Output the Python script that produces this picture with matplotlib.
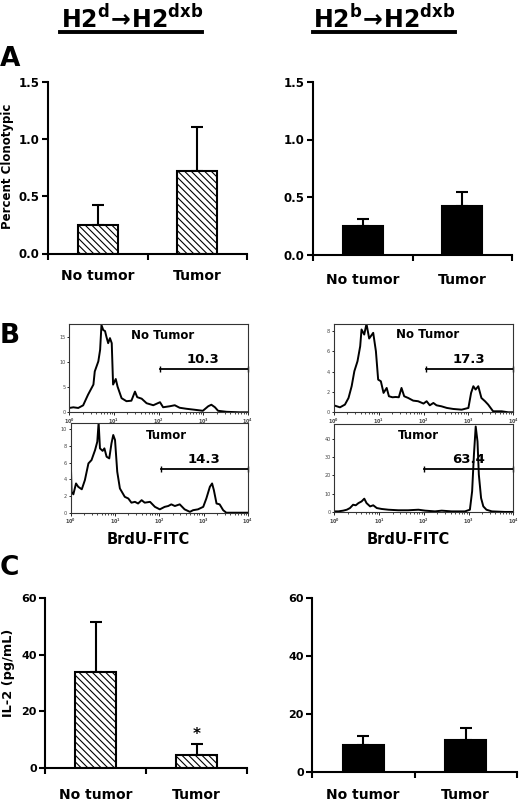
import numpy as np
import matplotlib
matplotlib.use("Agg")
import matplotlib.pyplot as plt
from matplotlib.lines import Line2D
from matplotlib.transforms import blended_transform_factory

plt.rcParams['font.family'] = ['DejaVu Sans']
plt.rcParams['font.weight'] = 'bold'
plt.rcParams['mathtext.fontset'] = 'dejavusans'
plt.rcParams['hatch.linewidth'] = 0.8

W, H = 520, 802

# ---- data ----
groups = ["No tumor", "Tumor"]

# panel A : percent clonotypic
clono_d_mean = [0.25, 0.72]
clono_d_err = [0.17, 0.385]
clono_b_mean = [0.25, 0.42]
clono_b_err = [0.06, 0.12]

# panel C : IL-2 (pg/mL)
il2_d_mean = [34.0, 4.5]
il2_d_err = [17.6, 4.0]
il2_b_mean = [9.3, 11.2]
il2_b_err = [3.1, 4.1]

# panel B : BrdU-FITC histograms (log10 of fluorescence, events)
h2d_notumor_logx = [0.00, 0.09, 0.20, 0.31, 0.42, 0.54, 0.57, 0.65, 0.69, 0.72, 0.76, 0.80,
                    0.83, 0.87, 0.91, 0.95, 0.98, 1.04, 1.08, 1.17, 1.28, 1.39, 1.47, 1.52,
                    1.62, 1.73, 1.88, 2.03, 2.10, 2.25, 2.36, 2.47, 2.62, 2.81, 2.99, 3.11,
                    3.18, 3.26, 3.33, 3.52, 3.81, 4.00]
h2d_notumor_cnt = [0.86, 0.99, 0.86, 1.38, 3.5, 5.5, 8.1, 10.1, 12.4, 17.3, 16.3, 16.1,
                   15.0, 13.7, 14.7, 13.7, 5.5, 6.6, 5.1, 2.8, 2.2, 2.3, 4.1, 3.0,
                   2.7, 1.8, 1.4, 2.0, 1.0, 1.2, 1.4, 0.9, 0.7, 0.5, 0.3, 1.2,
                   1.5, 1.0, 0.3, 0.1, 0.0, 0.0]

h2d_tumor_logx = [0.00, 0.02, 0.06, 0.12, 0.17, 0.25, 0.32, 0.40, 0.47, 0.55, 0.60, 0.63,
                  0.66, 0.72, 0.76, 0.81, 0.87, 0.92, 0.96, 1.00, 1.05, 1.11, 1.22, 1.30,
                  1.37, 1.45, 1.52, 1.60, 1.67, 1.79, 1.90, 2.01, 2.12, 2.20, 2.27, 2.35,
                  2.46, 2.57, 2.69, 2.76, 2.87, 2.99, 3.06, 3.14, 3.19, 3.23, 3.29, 3.36,
                  3.44, 3.51, 4.00]
h2d_tumor_cnt = [6.5, 2.5, 2.2, 3.5, 3.1, 2.8, 3.9, 5.9, 6.3, 7.5, 8.5, 10.8,
                 7.7, 7.4, 7.7, 6.7, 6.5, 8.3, 9.3, 8.7, 4.9, 2.9, 1.9, 1.7,
                 1.2, 1.3, 1.1, 1.5, 1.2, 1.3, 0.7, 0.4, 0.7, 0.8, 1.0, 0.8,
                 1.0, 0.4, 0.1, 0.3, 0.4, 0.7, 1.7, 3.1, 3.5, 2.7, 1.1, 1.0,
                 0.3, 0.0, 0.0]

h2b_notumor_logx = [0.00, 0.07, 0.14, 0.25, 0.33, 0.40, 0.46, 0.53, 0.59, 0.62, 0.68, 0.73,
                    0.79, 0.88, 0.94, 0.99, 1.05, 1.11, 1.18, 1.23, 1.31, 1.38, 1.45, 1.51,
                    1.57, 1.66, 1.77, 1.88, 2.00, 2.07, 2.14, 2.22, 2.29, 2.40, 2.52, 2.66,
                    2.85, 3.00, 3.06, 3.11, 3.16, 3.22, 3.29, 3.37, 3.44, 3.55, 3.74, 3.89,
                    4.00]
h2b_notumor_cnt = [0.69, 0.59, 0.49, 0.76, 1.41, 2.57, 4.05, 5.03, 6.51, 8.16, 7.66, 8.72,
                   7.27, 7.83, 6.02, 3.22, 3.06, 1.91, 2.40, 1.58, 1.48, 1.51, 1.48, 2.40,
                   1.58, 1.41, 1.15, 1.09, 0.86, 1.09, 0.69, 0.92, 0.69, 0.59, 0.43, 0.33,
                   0.26, 0.43, 1.91, 2.57, 2.24, 2.57, 1.41, 1.09, 0.76, 0.10, 0.10, 0.0,
                   0.0]

h2b_tumor_logx = [0.00, 0.09, 0.20, 0.28, 0.35, 0.42, 0.48, 0.54, 0.61, 0.67, 0.72, 0.80,
                  0.87, 0.95, 1.06, 1.21, 1.43, 1.65, 1.88, 2.03, 2.25, 2.40, 2.62, 2.92,
                  3.03, 3.08, 3.12, 3.16, 3.20, 3.23, 3.28, 3.33, 3.40, 3.52, 3.81, 4.00]
h2b_tumor_cnt = [0.5, 0.5, 0.9, 1.4, 2.3, 4.1, 3.8, 5.0, 5.9, 7.4, 5.0, 3.2,
                 3.8, 2.3, 1.8, 1.4, 1.1, 1.1, 1.4, 0.9, 0.5, 0.9, 0.5, 0.5,
                 1.4, 11.4, 31.2, 46.5, 38.4, 20.4, 7.7, 3.2, 1.4, 0.5, 0.2, 0.2]

# gate: start (log10), height, percent
gates = {
    "d_no": (2.04, 8.55, "10.3"),
    "d_tu": (2.03, 5.2, "14.3"),
    "b_no": (2.05, 4.28, "17.3"),
    "b_tu": (2.01, 23.6, "63.4"),
}


def rect(l, t, r, b):
    return [l / W, 1 - b / H, (r - l) / W, (b - t) / H]


def fx(x):
    return x / W


def fy(y):
    return 1 - y / H


fig = plt.figure(figsize=(5.2, 8.02), dpi=100)

# headers
fig.text(fx(132), fy(28), r'$\mathbf{H2^{d}\!\rightarrow\!H2^{dxb}}$', fontsize=17,
         ha='center', va='baseline')
fig.text(fx(384), fy(28), r'$\mathbf{H2^{b}\!\rightarrow\!H2^{dxb}}$', fontsize=17,
         ha='center', va='baseline')
fig.add_artist(Line2D([fx(60), fx(202)], [fy(32), fy(32)], color='k', lw=2.8))
fig.add_artist(Line2D([fx(313), fx(455)], [fy(32), fy(32)], color='k', lw=2.8))

# panel letters
fig.text(fx(0), fy(59), "A", fontsize=19, ha='left', va='center')
fig.text(fx(0), fy(336), "B", fontsize=19, ha='left', va='center')
fig.text(fx(0), fy(568), "C", fontsize=19, ha='left', va='center')


def bar_panel(r, means, errs, ymax, yticks, ytl, hatched, label_y, tick_fs):
    ax = fig.add_axes(rect(*r))
    xs = [0.5, 1.5]
    if hatched:
        ax.bar(xs, means, width=0.4, facecolor='white', edgecolor='k', lw=1.5,
               hatch='\\\\\\\\\\', zorder=2)
    else:
        ax.bar(xs, means, width=0.4, facecolor='k', edgecolor='k', lw=1.5, zorder=2)
    ax.errorbar(xs, means, yerr=[[0, 0], errs], fmt='none', ecolor='k',
                elinewidth=1.5, capsize=4, capthick=1.5, zorder=1)
    ax.set_xlim(0, 2)
    ax.set_ylim(0, ymax)
    ax.set_yticks(yticks)
    ax.set_yticklabels(ytl, fontsize=tick_fs, fontweight='bold')
    ax.set_xticks([0, 1, 2])
    ax.set_xticklabels([])
    for s in ['top', 'right']:
        ax.spines[s].set_visible(False)
    for s in ['left', 'bottom']:
        ax.spines[s].set_linewidth(1.5)
    ax.tick_params(direction='out', width=1.5, length=4, pad=2)
    tr = blended_transform_factory(ax.transData, fig.transFigure)
    for x, g in zip(xs, groups):
        ax.text(x, fy(label_y), g, transform=tr, ha='center', va='center',
                fontsize=10, fontweight='bold')
    return ax


axA1 = bar_panel((48, 82, 247, 253.5), clono_d_mean, clono_d_err, 1.5,
                 [0, 0.5, 1.0, 1.5], ["0.0", "0.5", "1.0", "1.5"], True, 276, 8.5)
fig.text(fx(8), fy(166), "Percent Clonotypic", rotation=90, fontsize=8.5,
         ha='center', va='center')

axA2 = bar_panel((313, 82, 512, 254.5), clono_b_mean, clono_b_err, 1.5,
                 [0, 0.5, 1.0, 1.5], ["0.0", "0.5", "1.0", "1.5"], False, 280, 8.5)

axC1 = bar_panel((45, 598, 247, 768), il2_d_mean, il2_d_err, 60,
                 [0, 20, 40, 60], ["0", "20", "40", "60"], True, 795, 8)
fig.text(fx(9), fy(673), "IL-2 (pg/mL)", rotation=90, fontsize=9.3,
         ha='center', va='center')
axC1.text(1.5, 12.0, "*", ha='center', va='center', fontsize=11, fontweight='bold')

axC2 = bar_panel((312, 598, 517, 772), il2_b_mean, il2_b_err, 60,
                 [0, 20, 40, 60], ["0", "20", "40", "60"], False, 795, 8)


def hist_panel(r, logx, cnt, ymax, yticks, gate, title, title_lx, title_y):
    ax = fig.add_axes(rect(*r))
    ax.plot(10 ** np.array(logx), cnt, color='k', lw=1.4, solid_joinstyle='round')
    ax.set_xscale('log')
    ax.set_xlim(1, 1e4)
    ax.set_ylim(0, ymax)
    ax.set_yticks(yticks)
    ax.set_yticklabels([str(t) for t in yticks], fontsize=3.5, fontweight='normal',
                       color='#444444')
    ax.tick_params(axis='x', which='major', labelsize=3.5, labelcolor='#444444',
                   length=2, width=0.6, pad=1)
    ax.tick_params(axis='x', which='minor', length=1.2, width=0.5)
    ax.tick_params(axis='y', length=1.5, width=0.6, pad=1)
    for s in ax.spines.values():
        s.set_linewidth(0.8)
        s.set_color('#333333')
    g0, gy, pct = gate
    ax.plot([10 ** g0, 1e4], [gy, gy], color='k', lw=1.3, marker='|', markersize=5,
            mew=1.0, clip_on=False)
    ax.text(10 ** 3.0, gy + ymax * 0.035, pct, ha='center', va='bottom', fontsize=9.5,
            fontweight='bold')
    ax.text(10 ** title_lx, title_y, title, ha='center', va='center', fontsize=8.5,
            fontweight='bold')
    return ax


hist_panel((69.3, 324, 248, 412.3), h2d_notumor_logx, h2d_notumor_cnt, 17.5,
           [0, 5, 10, 15], gates["d_no"], "No Tumor", 2.1, 15.3)
hist_panel((70.7, 423.3, 248, 512.7), h2d_tumor_logx, h2d_tumor_cnt, 10.7,
           [0, 2, 4, 6, 8, 10], gates["d_tu"], "Tumor", 2.15, 9.2)
hist_panel((333.7, 324, 513.3, 412.3), h2b_notumor_logx, h2b_notumor_cnt, 8.7,
           [0, 2, 4, 6, 8], gates["b_no"], "No Tumor", 2.1, 7.65)
hist_panel((334.3, 424.3, 513.3, 512.3), h2b_tumor_logx, h2b_tumor_cnt, 47.7,
           [0, 10, 20, 30, 40], gates["b_tu"], "Tumor", 1.88, 41.5)

fig.text(fx(148), fy(540), "BrdU-FITC", fontsize=10.5, ha='center', va='center')
fig.text(fx(408), fy(540), "BrdU-FITC", fontsize=10.5, ha='center', va='center')

fig.savefig("out.png", dpi=100)
